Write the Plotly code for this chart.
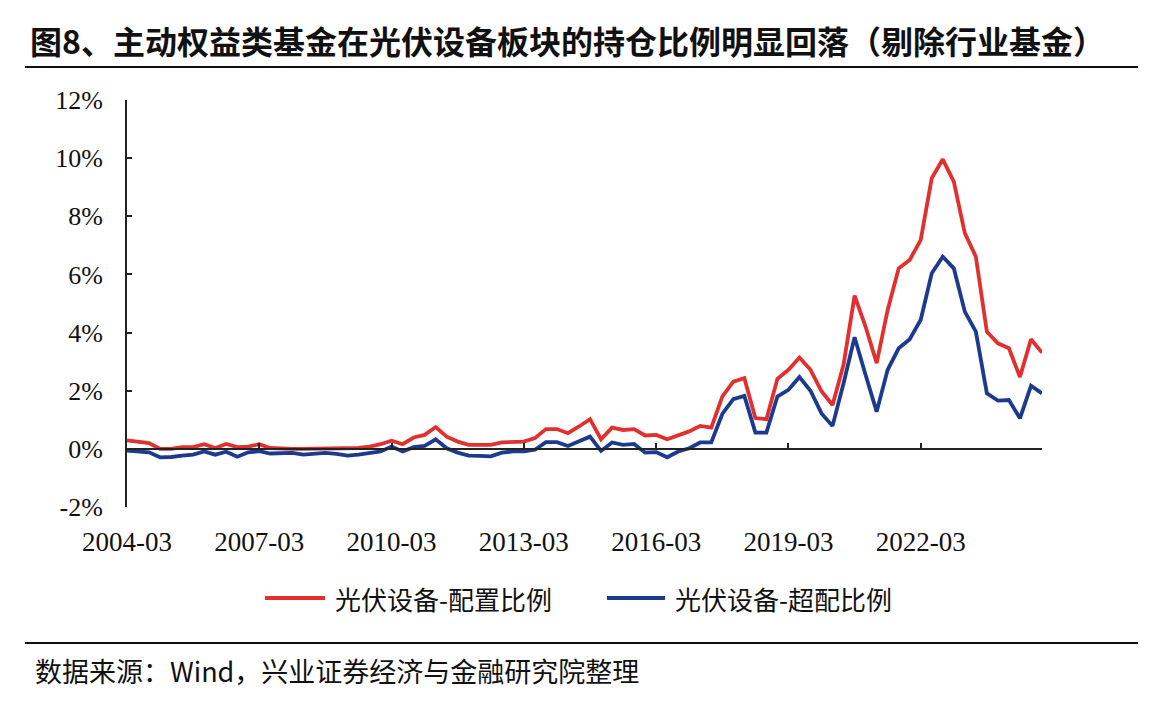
import plotly.graph_objects as go

# Quarterly categories 2004-03 .. 2024-12
quarters = [f"{y}-{m:02d}" for y in range(2004, 2025) for m in (3, 6, 9, 12)]

# 光伏设备-配置比例 (%)
alloc_ratio = [
    0.29, 0.25, 0.20, 0.00, 0.00, 0.06, 0.06, 0.16, 0.03, 0.17, 0.06, 0.08,
    0.16, 0.03, 0.00, 0.00, 0.00, 0.00, 0.00, 0.00, 0.01, 0.03, 0.08, 0.16,
    0.28, 0.16, 0.39, 0.48, 0.75, 0.42, 0.25, 0.14, 0.14, 0.14, 0.22, 0.25,
    0.25, 0.37, 0.68, 0.68, 0.54, 0.77, 1.02, 0.33, 0.73, 0.65, 0.68, 0.46,
    0.48, 0.33, 0.45, 0.60, 0.79, 0.73, 1.80, 2.31, 2.43, 1.06, 1.02, 2.41,
    2.72, 3.14, 2.72, 1.98, 1.51, 2.90, 5.27, 4.20, 2.95, 4.78, 6.21, 6.50,
    7.19, 9.31, 9.96, 9.19, 7.42, 6.61, 4.03, 3.63, 3.46, 2.47, 3.77, 3.31,
]

# 光伏设备-超配比例 (%)
over_ratio = [
    -0.06, -0.08, -0.12, -0.29, -0.28, -0.23, -0.20, -0.09, -0.20, -0.10, -0.27, -0.12,
    -0.08, -0.16, -0.16, -0.14, -0.20, -0.16, -0.14, -0.17, -0.23, -0.20, -0.15, -0.09,
    0.08, -0.09, 0.06, 0.10, 0.33, 0.02, -0.13, -0.23, -0.24, -0.26, -0.13, -0.09,
    -0.09, -0.03, 0.23, 0.23, 0.10, 0.25, 0.42, -0.07, 0.22, 0.14, 0.17, -0.13,
    -0.11, -0.29, -0.09, 0.02, 0.22, 0.22, 1.20, 1.71, 1.82, 0.56, 0.56, 1.80,
    2.03, 2.47, 2.00, 1.22, 0.79, 2.26, 3.84, 2.54, 1.28, 2.72, 3.46, 3.77,
    4.44, 6.04, 6.61, 6.21, 4.72, 4.03, 1.91, 1.66, 1.68, 1.05, 2.17, 1.91,
]

series_names = ["光伏设备-配置比例", "光伏设备-超配比例"]
x_tick_labels = ["2004-03", "2007-03", "2010-03", "2013-03", "2016-03", "2019-03", "2022-03"]
y_ticks = [-2, 0, 2, 4, 6, 8, 10, 12]

title_text = "图8、主动权益类基金在光伏设备板块的持仓比例明显回落（剔除行业基金）"
source_text = "数据来源：Wind，兴业证券经济与金融研究院整理"

RED = "#E2302F"
BLUE = "#1C3A8E"
SERIF = "Liberation Serif, Times New Roman, serif"
CJK = "Noto Sans CJK SC, sans-serif"

# page body adds an 8px margin; work in reference pixel coords and shift
OFF = 8
W, H = 1149 - OFF, 704 - OFF
PL, PR, PT, PB = 127, 1042, 100, 507  # plot area in reference coords
L, T = PL - OFF, PT - OFF
R, B = W - (PR - OFF), H - (PB - OFF)
pw, ph = PR - PL, PB - PT


def px_x(px):
    return (px - PL) / pw


def px_y(py):
    return (PB - py) / ph


fig = go.Figure()
colors = [RED, BLUE]
for name, vals, col in zip(series_names, [alloc_ratio, over_ratio], colors):
    fig.add_trace(go.Scatter(x=quarters, y=vals, mode="lines", name=name,
                             line=dict(color=col, width=3.8), showlegend=False))

ymin, ymax = -2, 12
zero_pos = (0 - ymin) / (ymax - ymin)

fig.update_layout(
    width=W, height=H,
    margin=dict(l=L, r=R, t=T, b=B, pad=0),
    paper_bgcolor="white", plot_bgcolor="white",
    showlegend=False,
    xaxis=dict(type="category", range=[0, len(quarters) - 1], tickmode="array",
               tickvals=x_tick_labels, ticktext=x_tick_labels, showgrid=False,
               showline=False, zeroline=False, ticks="",
               tickfont=dict(family=SERIF, size=27, color="#111"),
               ticklabelstandoff=16),
    xaxis2=dict(type="category", range=[0, len(quarters) - 1], overlaying="x",
                anchor="free", position=zero_pos, tickmode="array",
                tickvals=x_tick_labels, showticklabels=False, showgrid=False,
                showline=True, linecolor="#222", linewidth=1.6,
                ticks="inside", ticklen=5, tickwidth=1.6, tickcolor="#222", zeroline=False),
    yaxis=dict(range=[ymin, ymax], tickmode="array", tickvals=y_ticks,
               ticktext=[f"{v}%" for v in y_ticks], showgrid=False, zeroline=False,
               showline=True, linecolor="#222", linewidth=1.8,
               ticks="inside", ticklen=5, tickwidth=1.8, tickcolor="#222",
               tickfont=dict(family=SERIF, size=26, color="#111"),
               ticklabelstandoff=17),
    title=dict(text=title_text, xref="container", yref="container",
               x=(30 - OFF) / W, xanchor="left", y=1 - (43 - OFF) / H, yanchor="middle",
               font=dict(family=CJK, size=32, color="#111", weight="bold")),
)

# invisible trace to register xaxis2
fig.add_trace(go.Scatter(x=quarters, y=over_ratio, xaxis="x2", mode="lines",
                         line=dict(width=0), showlegend=False, hoverinfo="skip",
                         opacity=0))

# legend (drawn manually to match long line samples)
legend_items = [(265, 325, 333), (607, 665, 673)]
for (x0, x1, tx), name, col in zip(legend_items, series_names, colors):
    fig.add_shape(type="line", xref="paper", yref="paper",
                  x0=px_x(x0), x1=px_x(x1), y0=px_y(598), y1=px_y(598),
                  line=dict(color=col, width=4))
    fig.add_annotation(text=name, xref="paper", yref="paper",
                       x=px_x(tx), y=px_y(598), xanchor="left", yanchor="middle",
                       showarrow=False, font=dict(family=CJK, size=26, color="#111"))

fig.add_annotation(text=source_text, xref="paper", yref="paper",
                   x=px_x(33), y=px_y(670), xanchor="left", yanchor="middle",
                   showarrow=False, font=dict(family=CJK, size=27, color="#111"))

for py in (67, 643):
    fig.add_shape(type="line", xref="paper", yref="paper",
                  x0=px_x(25), x1=px_x(1138), y0=px_y(py), y1=px_y(py),
                  line=dict(color="#111", width=2))

fig.write_html("out.html")
